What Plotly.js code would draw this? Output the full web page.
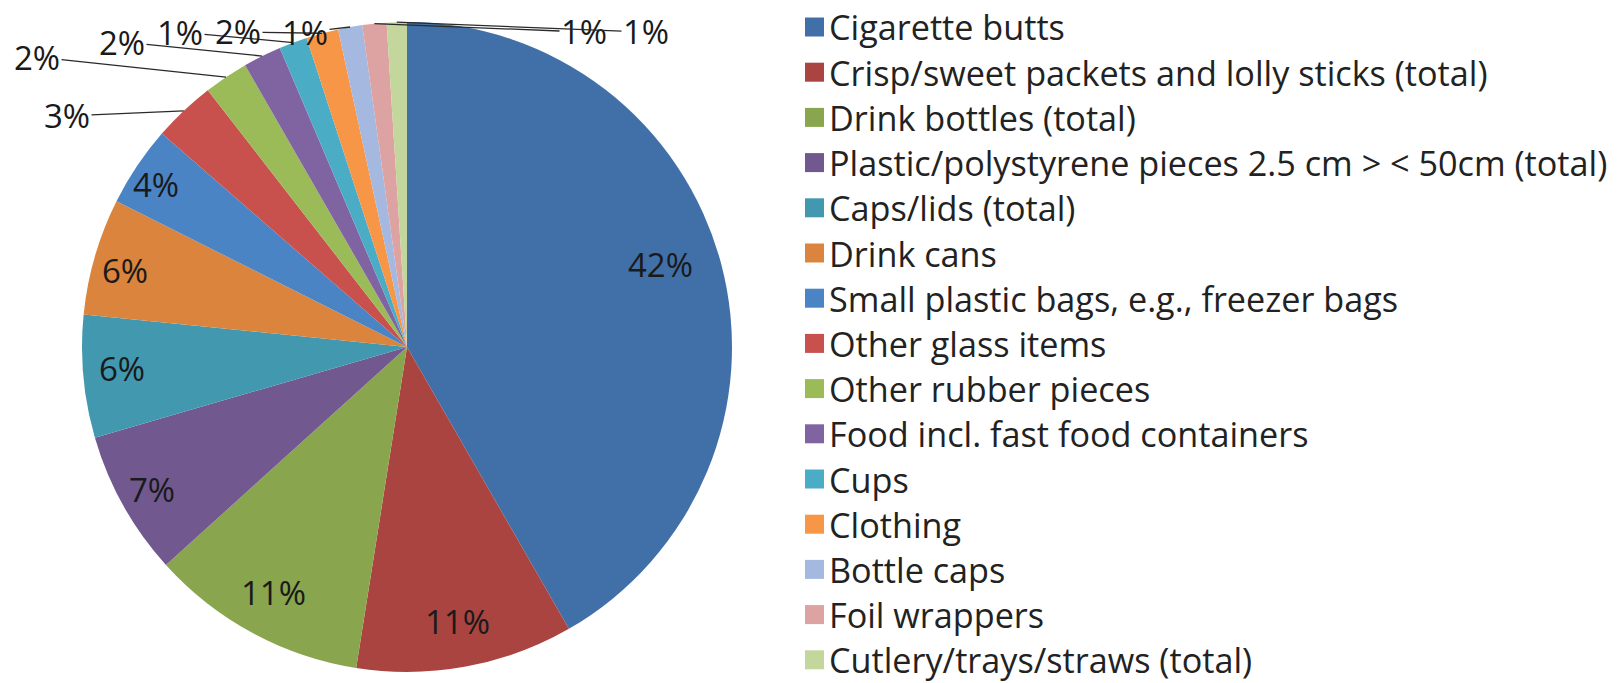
<!DOCTYPE html>
<html>
<head>
<meta charset="utf-8">
<script src="https://cdn.plot.ly/plotly-3.0.1.min.js"></script>
<style>html,body{margin:0;padding:0;background:#fff;}#chart{width:1621px;height:683px;}</style>
</head>
<body>
<div id="chart"></div>
<script>
// ---- data ----
const categories = [
  "Cigarette butts",
  "Crisp/sweet packets and lolly sticks (total)",
  "Drink bottles (total)",
  "Plastic/polystyrene pieces 2.5 cm > < 50cm (total)",
  "Caps/lids (total)",
  "Drink cans",
  "Small plastic bags, e.g., freezer bags",
  "Other glass items",
  "Other rubber pieces",
  "Food incl. fast food containers",
  "Cups",
  "Clothing",
  "Bottle caps",
  "Foil wrappers",
  "Cutlery/trays/straws (total)"
];
const shares = [41.7, 10.8, 10.8, 7.2, 6.1, 5.8, 4.0, 3.1, 2.2, 1.9, 1.4, 1.6, 1.2, 1.2, 1.0];
const sliceColors = [
  "#4170A8", "#AA4441", "#89A54E", "#71588F", "#4198AF", "#DB843D",
  "#4A84C4", "#C8504D", "#9BBB59", "#8064A2", "#4BACC6", "#F79646",
  "#A5B8E0", "#DDA3A2", "#C3D69B"
];

// ---- layout config (not data) ----
const W = 1621, H = 683;
const CX = 407, CY = 347, R = 325;
const nInside = 7; // first slices labelled inside
// radial placement (fraction of radius) and angular nudge (deg) of the inside labels
const insideRadius = [0.82, 0.86, 0.86, 0.90, 0.88, 0.90, 0.92];
const insideNudge = [-3, 0, 0, 0, 1, -1, -1];
// label positions (pixel) for the small, outside-labelled slices
const outsideLabelPos = [
  [67, 116], [37, 57], [122, 42], [180, 32], [238, 32], [305, 32], [584, 32], [646, 32]
];
const FONT = "Open Sans, sans-serif";
const LABEL_SIZE = 33;

const total = shares.reduce((a, b) => a + b, 0);

const trace = {
  type: "pie",
  labels: categories,
  values: shares,
  sort: false,
  direction: "clockwise",
  rotation: 0,
  marker: { colors: sliceColors, line: { width: 0 } },
  textinfo: "none",
  hoverinfo: "label+percent",
  showlegend: false,
  domain: { x: [(CX - R) / W, (CX + R) / W], y: [1 - (CY + R) / H, 1 - (CY - R) / H] }
};

const annotations = [];
const shapes = [];
// percentage labels, positions derived from the values
let cum = 0;
shares.forEach((v, i) => {
  const mid = (cum + v / 2) / total * 2 * Math.PI;
  cum += v;
  const txt = Math.round(v / total * 100) + "%";
  if (i < nInside) {
    const r = R * insideRadius[i];
    const a = mid + insideNudge[i] * Math.PI / 180;
    annotations.push({
      xref: "paper", yref: "paper",
      x: (CX + r * Math.sin(a)) / W, y: 1 - (CY - r * Math.cos(a)) / H,
      xanchor: "center", yanchor: "middle",
      text: txt, showarrow: false,
      font: { family: FONT, size: LABEL_SIZE, color: "#1a1a1a" }
    });
    return;
  }
  const hx = CX + R * Math.sin(mid), hy = CY - R * Math.cos(mid);
  const lp = outsideLabelPos[i - nInside];
  annotations.push({
    xref: "paper", yref: "paper",
    x: hx / W, y: 1 - hy / H,
    ax: lp[0] - hx, ay: lp[1] - hy,
    text: txt,
    showarrow: true, arrowhead: 0, arrowwidth: 1.3, arrowcolor: "#2a2a2a",
    standoff: 0, startstandoff: 0,
    font: { family: FONT, size: LABEL_SIZE, color: "#1a1a1a" }
  });
});

// legend built from categories and colours
const legX = 805, legSq = 19, legY0 = 27, legDy = 45.2;
categories.forEach((c, i) => {
  const yc = legY0 + i * legDy;
  shapes.push({
    type: "rect", xref: "paper", yref: "paper",
    x0: legX / W, x1: (legX + legSq) / W,
    y0: 1 - (yc + legSq / 2) / H, y1: 1 - (yc - legSq / 2) / H,
    fillcolor: sliceColors[i], line: { width: 0 }
  });
  annotations.push({
    xref: "paper", yref: "paper",
    x: (legX + legSq + 3) / W, y: 1 - yc / H,
    xanchor: "left", yanchor: "middle",
    text: c, showarrow: false,
    font: { family: FONT, size: 34.2, color: "#222222" }
  });
});

const layout = {
  width: W, height: H,
  margin: { l: 0, r: 0, t: 0, b: 0 },
  paper_bgcolor: "#ffffff",
  showlegend: false,
  annotations: annotations,
  shapes: shapes
};

Plotly.newPlot("chart", [trace], layout, { displayModeBar: false, staticPlot: true });
</script>
</body>
</html>
